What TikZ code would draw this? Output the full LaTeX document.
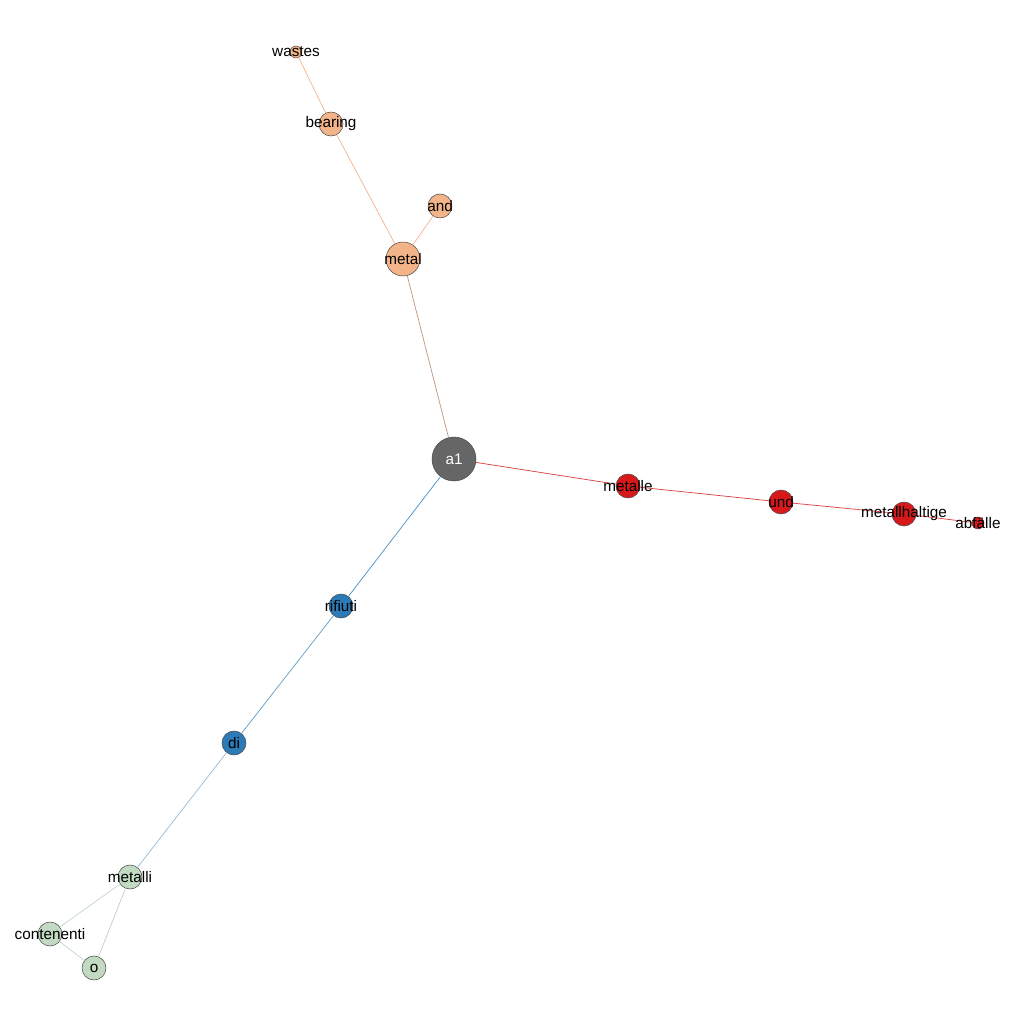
\documentclass[tikz,border=0pt]{standalone}
\usepackage{fontspec}
\setmainfont{Liberation Sans}
\definecolor{peach}{RGB}{244,180,137}
\definecolor{redw}{RGB}{215,25,28}
\definecolor{bluew}{RGB}{44,123,182}
\definecolor{greenw}{RGB}{194,217,194}
\definecolor{hub}{RGB}{102,102,102}
\tikzset{
  wnode/.style={circle,draw=black!70,line width=0.3pt,inner sep=0pt,minimum size=0.48cm},
  wlabel/.style={font=\fontsize{8.7}{10}\selectfont,inner sep=0pt},
  wedge/.style={line width=0.4pt}
}
\begin{document}
\begin{tikzpicture}[x=0.02cm,y=-0.02cm]
\useasboundingbox[fill=white] (0,0) rectangle (1024,1024);
% nodes
\node[wnode,fill=hub,minimum size=0.88cm] (a1) at (454,459) {};
\node[wnode,fill=peach,minimum size=0.68cm] (metal) at (403,259) {};
\node[wnode,fill=peach] (and) at (440,206) {};
\node[wnode,fill=peach] (bearing) at (331,124) {};
\node[wnode,fill=peach,minimum size=0.24cm] (wastes) at (296,52) {};
\node[wnode,fill=redw] (metalle) at (628,486) {};
\node[wnode,fill=redw] (und) at (781,502) {};
\node[wnode,fill=redw] (metallhaltige) at (904,514) {};
\node[wnode,fill=redw,minimum size=0.24cm] (abfalle) at (978,523) {};
\node[wnode,fill=bluew] (rifiuti) at (341,606) {};
\node[wnode,fill=bluew] (di) at (234,743) {};
\node[wnode,fill=greenw] (metalli) at (130,877) {};
\node[wnode,fill=greenw] (contenenti) at (50,934) {};
\node[wnode,fill=greenw] (o) at (94,968) {};
% edges
\begin{scope}[on background layer/.style={}]
\draw[wedge,color={rgb,255:red,190;green,150;blue,125}] (a1) -- (metal);
\draw[wedge,peach] (metal) -- (and);
\draw[wedge,peach] (metal) -- (bearing);
\draw[wedge,peach] (bearing) -- (wastes);
\draw[wedge,redw!85] (a1) -- (metalle);
\draw[wedge,redw!85] (metalle) -- (und);
\draw[wedge,redw!85] (und) -- (metallhaltige);
\draw[wedge,redw!85] (metallhaltige) -- (abfalle);
\draw[wedge,bluew!85] (a1) -- (rifiuti);
\draw[wedge,bluew!75] (rifiuti) -- (di);
\draw[wedge,bluew!50] (di) -- (metalli);
\draw[wedge,greenw] (metalli) -- (contenenti);
\draw[wedge,greenw!80!black!60] (metalli) -- (o);
\draw[wedge,greenw] (contenenti) -- (o);
\end{scope}
% labels
\node[wlabel,white] at (a1) {a1};
\node[wlabel] at (metal) {metal};
\node[wlabel] at (and) {and};
\node[wlabel] at (bearing) {bearing};
\node[wlabel] at (wastes) {wastes};
\node[wlabel] at (metalle) {metalle};
\node[wlabel] at (und) {und};
\node[wlabel] at (metallhaltige) {metallhaltige};
\node[wlabel] at (abfalle) {abfälle};
\node[wlabel] at (rifiuti) {rifiuti};
\node[wlabel] at (di) {di};
\node[wlabel] at (metalli) {metalli};
\node[wlabel] at (contenenti) {contenenti};
\node[wlabel] at (o) {o};
\end{tikzpicture}
\end{document}
